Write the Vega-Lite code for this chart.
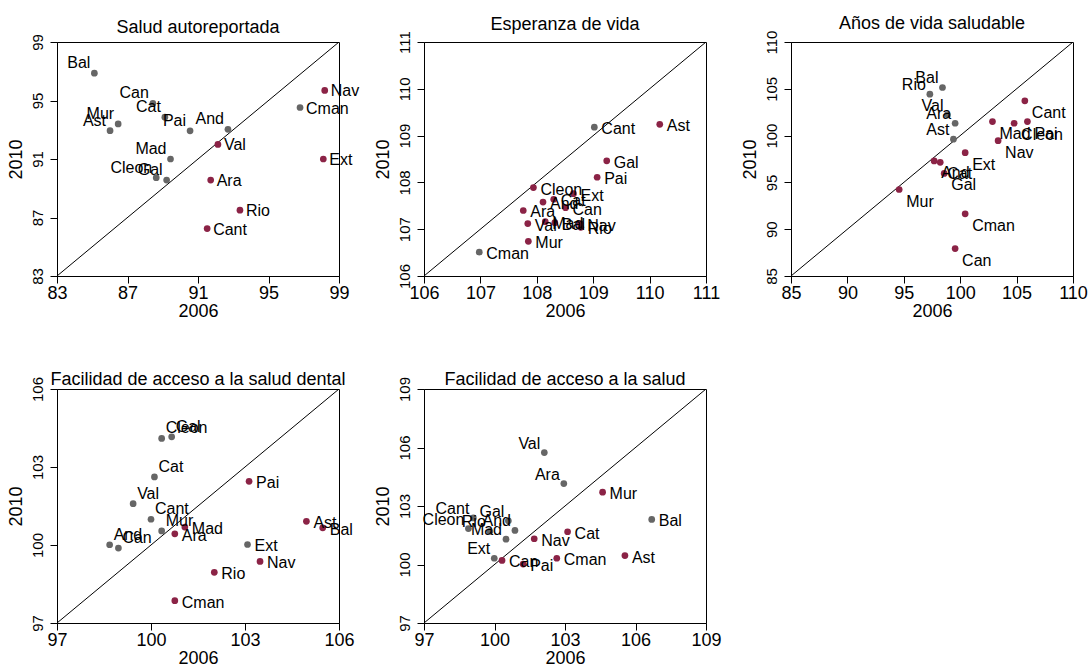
{
  "$schema": "https://vega.github.io/schema/vega-lite/v6.json",
  "background": "white",
  "padding": {"left": 6, "top": 14, "right": 5, "bottom": 0},
  "datasets": {
    "diagonales": [
      {"indicador": "Salud autoreportada", "desde": 83, "hasta": 99},
      {"indicador": "Esperanza de vida", "desde": 106, "hasta": 111},
      {"indicador": "Años de vida saludable", "desde": 85, "hasta": 110},
      {"indicador": "Facilidad de acceso a la salud dental", "desde": 97, "hasta": 106},
      {"indicador": "Facilidad de acceso a la salud", "desde": 97, "hasta": 109}
    ],
    "puntos": [
      {"indicador": "Salud autoreportada", "region": "Bal", "x2006": 85.12, "y2010": 96.87, "grupo": "1"},
      {"indicador": "Salud autoreportada", "region": "Can", "x2006": 88.44, "y2010": 94.80, "grupo": "1"},
      {"indicador": "Salud autoreportada", "region": "Cat", "x2006": 89.12, "y2010": 93.86, "grupo": "1"},
      {"indicador": "Salud autoreportada", "region": "Mur", "x2006": 86.47, "y2010": 93.40, "grupo": "1"},
      {"indicador": "Salud autoreportada", "region": "Ast", "x2006": 86.01, "y2010": 92.94, "grupo": "1"},
      {"indicador": "Salud autoreportada", "region": "Pai", "x2006": 90.55, "y2010": 92.93, "grupo": "1"},
      {"indicador": "Salud autoreportada", "region": "And", "x2006": 92.70, "y2010": 93.03, "grupo": "1"},
      {"indicador": "Salud autoreportada", "region": "Mad", "x2006": 89.44, "y2010": 91.00, "grupo": "1"},
      {"indicador": "Salud autoreportada", "region": "Cleon", "x2006": 88.63, "y2010": 89.72, "grupo": "1"},
      {"indicador": "Salud autoreportada", "region": "Gal", "x2006": 89.22, "y2010": 89.56, "grupo": "1"},
      {"indicador": "Salud autoreportada", "region": "Val", "x2006": 92.13, "y2010": 92.00, "grupo": "2"},
      {"indicador": "Salud autoreportada", "region": "Ara", "x2006": 91.72, "y2010": 89.56, "grupo": "2"},
      {"indicador": "Salud autoreportada", "region": "Rio", "x2006": 93.38, "y2010": 87.50, "grupo": "2"},
      {"indicador": "Salud autoreportada", "region": "Cant", "x2006": 91.52, "y2010": 86.24, "grupo": "2"},
      {"indicador": "Salud autoreportada", "region": "Nav", "x2006": 98.19, "y2010": 95.69, "grupo": "2"},
      {"indicador": "Salud autoreportada", "region": "Cman", "x2006": 96.79, "y2010": 94.52, "grupo": "1"},
      {"indicador": "Salud autoreportada", "region": "Ext", "x2006": 98.11, "y2010": 91.00, "grupo": "2"},

      {"indicador": "Esperanza de vida", "region": "Cant", "x2006": 109.02, "y2010": 109.18, "grupo": "1"},
      {"indicador": "Esperanza de vida", "region": "Ast", "x2006": 110.18, "y2010": 109.24, "grupo": "2"},
      {"indicador": "Esperanza de vida", "region": "Gal", "x2006": 109.24, "y2010": 108.46, "grupo": "2"},
      {"indicador": "Esperanza de vida", "region": "Pai", "x2006": 109.07, "y2010": 108.11, "grupo": "2"},
      {"indicador": "Esperanza de vida", "region": "Cleon", "x2006": 107.94, "y2010": 107.89, "grupo": "2"},
      {"indicador": "Esperanza de vida", "region": "Ext", "x2006": 108.65, "y2010": 107.76, "grupo": "2"},
      {"indicador": "Esperanza de vida", "region": "Cat", "x2006": 108.30, "y2010": 107.64, "grupo": "2"},
      {"indicador": "Esperanza de vida", "region": "And", "x2006": 108.11, "y2010": 107.58, "grupo": "2"},
      {"indicador": "Esperanza de vida", "region": "Can", "x2006": 108.51, "y2010": 107.46, "grupo": "2"},
      {"indicador": "Esperanza de vida", "region": "Ara", "x2006": 107.76, "y2010": 107.40, "grupo": "2"},
      {"indicador": "Esperanza de vida", "region": "Val", "x2006": 107.84, "y2010": 107.12, "grupo": "2"},
      {"indicador": "Esperanza de vida", "region": "Mad", "x2006": 108.15, "y2010": 107.16, "grupo": "2"},
      {"indicador": "Esperanza de vida", "region": "Bal", "x2006": 108.32, "y2010": 107.14, "grupo": "2"},
      {"indicador": "Esperanza de vida", "region": "Nav", "x2006": 108.77, "y2010": 107.12, "grupo": "2"},
      {"indicador": "Esperanza de vida", "region": "Rio", "x2006": 108.78, "y2010": 107.04, "grupo": "2"},
      {"indicador": "Esperanza de vida", "region": "Mur", "x2006": 107.85, "y2010": 106.74, "grupo": "2"},
      {"indicador": "Esperanza de vida", "region": "Cman", "x2006": 106.98, "y2010": 106.51, "grupo": "1"},

      {"indicador": "Años de vida saludable", "region": "Bal", "x2006": 98.43, "y2010": 105.14, "grupo": "1"},
      {"indicador": "Años de vida saludable", "region": "Rio", "x2006": 97.31, "y2010": 104.43, "grupo": "1"},
      {"indicador": "Años de vida saludable", "region": "Val", "x2006": 98.87, "y2010": 102.22, "grupo": "1"},
      {"indicador": "Años de vida saludable", "region": "Ara", "x2006": 99.55, "y2010": 101.32, "grupo": "1"},
      {"indicador": "Años de vida saludable", "region": "Ast", "x2006": 99.40, "y2010": 99.62, "grupo": "1"},
      {"indicador": "Años de vida saludable", "region": "Cant", "x2006": 105.73, "y2010": 103.72, "grupo": "2"},
      {"indicador": "Años de vida saludable", "region": "Pai", "x2006": 105.96, "y2010": 101.50, "grupo": "2"},
      {"indicador": "Años de vida saludable", "region": "Cleon", "x2006": 104.78, "y2010": 101.32, "grupo": "2"},
      {"indicador": "Años de vida saludable", "region": "Mad", "x2006": 102.86, "y2010": 101.50, "grupo": "2"},
      {"indicador": "Años de vida saludable", "region": "Nav", "x2006": 103.36, "y2010": 99.46, "grupo": "2"},
      {"indicador": "Años de vida saludable", "region": "Ext", "x2006": 100.44, "y2010": 98.18, "grupo": "2"},
      {"indicador": "Años de vida saludable", "region": "And", "x2006": 97.69, "y2010": 97.29, "grupo": "2"},
      {"indicador": "Años de vida saludable", "region": "Cat", "x2006": 98.23, "y2010": 97.14, "grupo": "2"},
      {"indicador": "Años de vida saludable", "region": "Gal", "x2006": 98.58, "y2010": 95.96, "grupo": "2"},
      {"indicador": "Años de vida saludable", "region": "Mur", "x2006": 94.59, "y2010": 94.24, "grupo": "2"},
      {"indicador": "Años de vida saludable", "region": "Cman", "x2006": 100.44, "y2010": 91.64, "grupo": "2"},
      {"indicador": "Años de vida saludable", "region": "Can", "x2006": 99.55, "y2010": 87.93, "grupo": "2"},

      {"indicador": "Facilidad de acceso a la salud dental", "region": "Cleon", "x2006": 100.34, "y2010": 104.10, "grupo": "1"},
      {"indicador": "Facilidad de acceso a la salud dental", "region": "Gal", "x2006": 100.66, "y2010": 104.16, "grupo": "1"},
      {"indicador": "Facilidad de acceso a la salud dental", "region": "Cat", "x2006": 100.11, "y2010": 102.62, "grupo": "1"},
      {"indicador": "Facilidad de acceso a la salud dental", "region": "Val", "x2006": 99.43, "y2010": 101.59, "grupo": "1"},
      {"indicador": "Facilidad de acceso a la salud dental", "region": "Cant", "x2006": 100.00, "y2010": 100.99, "grupo": "1"},
      {"indicador": "Facilidad de acceso a la salud dental", "region": "Mur", "x2006": 100.34, "y2010": 100.54, "grupo": "1"},
      {"indicador": "Facilidad de acceso a la salud dental", "region": "And", "x2006": 98.68, "y2010": 100.01, "grupo": "1"},
      {"indicador": "Facilidad de acceso a la salud dental", "region": "Can", "x2006": 98.96, "y2010": 99.88, "grupo": "1"},
      {"indicador": "Facilidad de acceso a la salud dental", "region": "Ara", "x2006": 100.76, "y2010": 100.43, "grupo": "2"},
      {"indicador": "Facilidad de acceso a la salud dental", "region": "Mad", "x2006": 101.08, "y2010": 100.69, "grupo": "2"},
      {"indicador": "Facilidad de acceso a la salud dental", "region": "Pai", "x2006": 103.13, "y2010": 102.45, "grupo": "2"},
      {"indicador": "Facilidad de acceso a la salud dental", "region": "Ast", "x2006": 104.96, "y2010": 100.91, "grupo": "2"},
      {"indicador": "Facilidad de acceso a la salud dental", "region": "Bal", "x2006": 105.48, "y2010": 100.66, "grupo": "2"},
      {"indicador": "Facilidad de acceso a la salud dental", "region": "Ext", "x2006": 103.08, "y2010": 100.02, "grupo": "1"},
      {"indicador": "Facilidad de acceso a la salud dental", "region": "Nav", "x2006": 103.48, "y2010": 99.37, "grupo": "2"},
      {"indicador": "Facilidad de acceso a la salud dental", "region": "Rio", "x2006": 102.02, "y2010": 98.95, "grupo": "2"},
      {"indicador": "Facilidad de acceso a la salud dental", "region": "Cman", "x2006": 100.76, "y2010": 97.86, "grupo": "2"},

      {"indicador": "Facilidad de acceso a la salud", "region": "Val", "x2006": 102.12, "y2010": 105.74, "grupo": "1"},
      {"indicador": "Facilidad de acceso a la salud", "region": "Ara", "x2006": 102.95, "y2010": 104.15, "grupo": "1"},
      {"indicador": "Facilidad de acceso a la salud", "region": "Mur", "x2006": 104.60, "y2010": 103.71, "grupo": "2"},
      {"indicador": "Facilidad de acceso a la salud", "region": "Bal", "x2006": 106.69, "y2010": 102.31, "grupo": "1"},
      {"indicador": "Facilidad de acceso a la salud", "region": "Cat", "x2006": 103.11, "y2010": 101.68, "grupo": "2"},
      {"indicador": "Facilidad de acceso a la salud", "region": "Nav", "x2006": 101.69, "y2010": 101.32, "grupo": "2"},
      {"indicador": "Facilidad de acceso a la salud", "region": "Ast", "x2006": 105.55, "y2010": 100.46, "grupo": "2"},
      {"indicador": "Facilidad de acceso a la salud", "region": "Cman", "x2006": 102.65, "y2010": 100.32, "grupo": "2"},
      {"indicador": "Facilidad de acceso a la salud", "region": "Pai", "x2006": 101.22, "y2010": 100.02, "grupo": "2"},
      {"indicador": "Facilidad de acceso a la salud", "region": "Can", "x2006": 100.32, "y2010": 100.21, "grupo": "2"},
      {"indicador": "Facilidad de acceso a la salud", "region": "Ext", "x2006": 99.99, "y2010": 100.32, "grupo": "1"},
      {"indicador": "Facilidad de acceso a la salud", "region": "Cant", "x2006": 99.10, "y2010": 102.39, "grupo": "1"},
      {"indicador": "Facilidad de acceso a la salud", "region": "Cleon", "x2006": 98.89, "y2010": 101.84, "grupo": "1"},
      {"indicador": "Facilidad de acceso a la salud", "region": "Gal", "x2006": 100.59, "y2010": 102.24, "grupo": "1"},
      {"indicador": "Facilidad de acceso a la salud", "region": "And", "x2006": 100.87, "y2010": 101.75, "grupo": "1"},
      {"indicador": "Facilidad de acceso a la salud", "region": "Mad", "x2006": 100.49, "y2010": 101.30, "grupo": "1"},
      {"indicador": "Facilidad de acceso a la salud", "region": "Rio", "x2006": 99.80, "y2010": 101.70, "grupo": "1"}
    ]
  },
  "columns": 3,
  "bounds": "flush",
  "spacing": {"row": 113, "column": 85},
  "resolve": {"scale": {"x": "independent", "y": "independent", "color": "shared"}},
  "concat": [
    {
      "width": 282, "height": 234,
      "title": {"text": "Salud autoreportada", "offset": -3},
      "layer": [
        {
          "data": {"name": "diagonales"},
          "transform": [{"filter": "datum.indicador === 'Salud autoreportada'"}],
          "mark": {"type": "rule", "color": "black", "strokeWidth": 1, "clip": true},
          "encoding": {
            "x": {"field": "desde", "type": "quantitative", "title": "2006", "scale": {"domain": [83, 99], "nice": false, "zero": false}, "axis": {"values": [83, 87, 91, 95, 99]}},
            "y": {"field": "desde", "type": "quantitative", "title": "2010", "scale": {"domain": [83, 99], "nice": false, "zero": false}, "axis": {"values": [83, 87, 91, 95, 99]}},
            "x2": {"field": "hasta"}, "y2": {"field": "hasta"}
          }
        },
        {
          "data": {"name": "puntos"},
          "transform": [{"filter": "datum.indicador === 'Salud autoreportada'"}],
          "mark": {"type": "circle", "size": 45, "opacity": 1},
          "encoding": {
            "x": {"field": "x2006", "type": "quantitative", "title": "2006"},
            "y": {"field": "y2010", "type": "quantitative", "title": "2010"},
            "color": {"field": "grupo", "type": "nominal", "scale": {"domain": ["1", "2"], "range": ["#666666", "#8b2346"]}, "legend": null}
          }
        },
        {
          "data": {"name": "puntos"},
          "transform": [{"filter": "datum.indicador === 'Salud autoreportada' && datum.y2010 > datum.x2006"}],
          "mark": {"type": "text", "align": "right", "baseline": "middle", "dx": -4, "dy": -10},
          "encoding": {
            "x": {"field": "x2006", "type": "quantitative", "title": "2006"},
            "y": {"field": "y2010", "type": "quantitative", "title": "2010"},
            "text": {"field": "region"}
          }
        },
        {
          "data": {"name": "puntos"},
          "transform": [{"filter": "datum.indicador === 'Salud autoreportada' && datum.y2010 <= datum.x2006"}],
          "mark": {"type": "text", "align": "left", "baseline": "middle", "dx": 6, "dy": 1},
          "encoding": {
            "x": {"field": "x2006", "type": "quantitative", "title": "2006"},
            "y": {"field": "y2010", "type": "quantitative", "title": "2010"},
            "text": {"field": "region"}
          }
        }
      ]
    },
    {
      "width": 282, "height": 234,
      "title": {"text": "Esperanza de vida", "offset": -3},
      "layer": [
        {
          "data": {"name": "diagonales"},
          "transform": [{"filter": "datum.indicador === 'Esperanza de vida'"}],
          "mark": {"type": "rule", "color": "black", "strokeWidth": 1, "clip": true},
          "encoding": {
            "x": {"field": "desde", "type": "quantitative", "title": "2006", "scale": {"domain": [106, 111], "nice": false, "zero": false}, "axis": {"values": [106, 107, 108, 109, 110, 111]}},
            "y": {"field": "desde", "type": "quantitative", "title": "2010", "scale": {"domain": [106, 111], "nice": false, "zero": false}, "axis": {"values": [106, 107, 108, 109, 110, 111]}},
            "x2": {"field": "hasta"}, "y2": {"field": "hasta"}
          }
        },
        {
          "data": {"name": "puntos"},
          "transform": [{"filter": "datum.indicador === 'Esperanza de vida'"}],
          "mark": {"type": "circle", "size": 45, "opacity": 1},
          "encoding": {
            "x": {"field": "x2006", "type": "quantitative", "title": "2006"},
            "y": {"field": "y2010", "type": "quantitative", "title": "2010"},
            "color": {"field": "grupo", "type": "nominal", "scale": {"domain": ["1", "2"], "range": ["#666666", "#8b2346"]}, "legend": null}
          }
        },
        {
          "data": {"name": "puntos"},
          "transform": [{"filter": "datum.indicador === 'Esperanza de vida'"}],
          "mark": {"type": "text", "align": "left", "baseline": "middle", "dx": 7, "dy": 2},
          "encoding": {
            "x": {"field": "x2006", "type": "quantitative", "title": "2006"},
            "y": {"field": "y2010", "type": "quantitative", "title": "2010"},
            "text": {"field": "region"}
          }
        }
      ]
    },
    {
      "width": 282, "height": 234,
      "title": {"text": "Años de vida saludable", "offset": -3},
      "layer": [
        {
          "data": {"name": "diagonales"},
          "transform": [{"filter": "datum.indicador === 'Años de vida saludable'"}],
          "mark": {"type": "rule", "color": "black", "strokeWidth": 1, "clip": true},
          "encoding": {
            "x": {"field": "desde", "type": "quantitative", "title": "2006", "scale": {"domain": [85, 110], "nice": false, "zero": false}, "axis": {"values": [85, 90, 95, 100, 105, 110]}},
            "y": {"field": "desde", "type": "quantitative", "title": "2010", "scale": {"domain": [85, 110], "nice": false, "zero": false}, "axis": {"values": [85, 90, 95, 100, 105, 110]}},
            "x2": {"field": "hasta"}, "y2": {"field": "hasta"}
          }
        },
        {
          "data": {"name": "puntos"},
          "transform": [{"filter": "datum.indicador === 'Años de vida saludable'"}],
          "mark": {"type": "circle", "size": 45, "opacity": 1},
          "encoding": {
            "x": {"field": "x2006", "type": "quantitative", "title": "2006"},
            "y": {"field": "y2010", "type": "quantitative", "title": "2010"},
            "color": {"field": "grupo", "type": "nominal", "scale": {"domain": ["1", "2"], "range": ["#666666", "#8b2346"]}, "legend": null}
          }
        },
        {
          "data": {"name": "puntos"},
          "transform": [{"filter": "datum.indicador === 'Años de vida saludable' && datum.y2010 > datum.x2006"}],
          "mark": {"type": "text", "align": "right", "baseline": "middle", "dx": -4, "dy": -9},
          "encoding": {
            "x": {"field": "x2006", "type": "quantitative", "title": "2006"},
            "y": {"field": "y2010", "type": "quantitative", "title": "2010"},
            "text": {"field": "region"}
          }
        },
        {
          "data": {"name": "puntos"},
          "transform": [{"filter": "datum.indicador === 'Años de vida saludable' && datum.y2010 <= datum.x2006"}],
          "mark": {"type": "text", "align": "left", "baseline": "middle", "dx": 7, "dy": 12},
          "encoding": {
            "x": {"field": "x2006", "type": "quantitative", "title": "2006"},
            "y": {"field": "y2010", "type": "quantitative", "title": "2010"},
            "text": {"field": "region"}
          }
        }
      ]
    },
    {
      "width": 282, "height": 234,
      "title": {"text": "Facilidad de acceso a la salud dental", "offset": -13},
      "layer": [
        {
          "data": {"name": "diagonales"},
          "transform": [{"filter": "datum.indicador === 'Facilidad de acceso a la salud dental'"}],
          "mark": {"type": "rule", "color": "black", "strokeWidth": 1, "clip": true},
          "encoding": {
            "x": {"field": "desde", "type": "quantitative", "title": "2006", "scale": {"domain": [97, 106], "nice": false, "zero": false}, "axis": {"values": [97, 100, 103, 106]}},
            "y": {"field": "desde", "type": "quantitative", "title": "2010", "scale": {"domain": [97, 106], "nice": false, "zero": false}, "axis": {"values": [97, 100, 103, 106]}},
            "x2": {"field": "hasta"}, "y2": {"field": "hasta"}
          }
        },
        {
          "data": {"name": "puntos"},
          "transform": [{"filter": "datum.indicador === 'Facilidad de acceso a la salud dental'"}],
          "mark": {"type": "circle", "size": 45, "opacity": 1},
          "encoding": {
            "x": {"field": "x2006", "type": "quantitative", "title": "2006"},
            "y": {"field": "y2010", "type": "quantitative", "title": "2010"},
            "color": {"field": "grupo", "type": "nominal", "scale": {"domain": ["1", "2"], "range": ["#666666", "#8b2346"]}, "legend": null}
          }
        },
        {
          "data": {"name": "puntos"},
          "transform": [{"filter": "datum.indicador === 'Facilidad de acceso a la salud dental' && datum.y2010 > datum.x2006"}],
          "mark": {"type": "text", "align": "left", "baseline": "middle", "dx": 4, "dy": -10},
          "encoding": {
            "x": {"field": "x2006", "type": "quantitative", "title": "2006"},
            "y": {"field": "y2010", "type": "quantitative", "title": "2010"},
            "text": {"field": "region"}
          }
        },
        {
          "data": {"name": "puntos"},
          "transform": [{"filter": "datum.indicador === 'Facilidad de acceso a la salud dental' && datum.y2010 <= datum.x2006"}],
          "mark": {"type": "text", "align": "left", "baseline": "middle", "dx": 7, "dy": 2},
          "encoding": {
            "x": {"field": "x2006", "type": "quantitative", "title": "2006"},
            "y": {"field": "y2010", "type": "quantitative", "title": "2010"},
            "text": {"field": "region"}
          }
        }
      ]
    },
    {
      "width": 282, "height": 234,
      "title": {"text": "Facilidad de acceso a la salud", "offset": -13},
      "layer": [
        {
          "data": {"name": "diagonales"},
          "transform": [{"filter": "datum.indicador === 'Facilidad de acceso a la salud'"}],
          "mark": {"type": "rule", "color": "black", "strokeWidth": 1, "clip": true},
          "encoding": {
            "x": {"field": "desde", "type": "quantitative", "title": "2006", "scale": {"domain": [97, 109], "nice": false, "zero": false}, "axis": {"values": [97, 100, 103, 106, 109]}},
            "y": {"field": "desde", "type": "quantitative", "title": "2010", "scale": {"domain": [97, 109], "nice": false, "zero": false}, "axis": {"values": [97, 100, 103, 106, 109]}},
            "x2": {"field": "hasta"}, "y2": {"field": "hasta"}
          }
        },
        {
          "data": {"name": "puntos"},
          "transform": [{"filter": "datum.indicador === 'Facilidad de acceso a la salud'"}],
          "mark": {"type": "circle", "size": 45, "opacity": 1},
          "encoding": {
            "x": {"field": "x2006", "type": "quantitative", "title": "2006"},
            "y": {"field": "y2010", "type": "quantitative", "title": "2010"},
            "color": {"field": "grupo", "type": "nominal", "scale": {"domain": ["1", "2"], "range": ["#666666", "#8b2346"]}, "legend": null}
          }
        },
        {
          "data": {"name": "puntos"},
          "transform": [{"filter": "datum.indicador === 'Facilidad de acceso a la salud' && datum.y2010 > datum.x2006"}],
          "mark": {"type": "text", "align": "right", "baseline": "middle", "dx": -4, "dy": -9},
          "encoding": {
            "x": {"field": "x2006", "type": "quantitative", "title": "2006"},
            "y": {"field": "y2010", "type": "quantitative", "title": "2010"},
            "text": {"field": "region"}
          }
        },
        {
          "data": {"name": "puntos"},
          "transform": [{"filter": "datum.indicador === 'Facilidad de acceso a la salud' && datum.y2010 <= datum.x2006"}],
          "mark": {"type": "text", "align": "left", "baseline": "middle", "dx": 7, "dy": 2},
          "encoding": {
            "x": {"field": "x2006", "type": "quantitative", "title": "2006"},
            "y": {"field": "y2010", "type": "quantitative", "title": "2010"},
            "text": {"field": "region"}
          }
        }
      ]
    }
  ],
  "config": {
    "font": "Liberation Sans",
    "view": {"stroke": "black", "strokeWidth": 1},
    "text": {"font": "Liberation Sans", "fontSize": 16, "color": "black"},
    "title": {"font": "Liberation Sans", "fontSize": 18, "fontWeight": "normal", "color": "black", "anchor": "middle"},
    "axis": {
      "grid": false,
      "format": "d",
      "domainColor": "black",
      "domainWidth": 1,
      "tickColor": "black",
      "tickSize": 7,
      "tickWidth": 1,
      "labelFont": "Liberation Sans",
      "labelColor": "black",
      "labelFlush": false,
      "labelOverlap": false,
      "labelBound": false,
      "titleFont": "Liberation Sans",
      "titleFontSize": 18,
      "titleFontWeight": "normal",
      "titleColor": "black"
    },
    "axisX": {"labelFontSize": 18, "labelPadding": 1, "titlePadding": 0},
    "axisY": {"labelFontSize": 15, "labelAngle": -90, "labelPadding": 5, "titlePadding": 5}
  }
}
